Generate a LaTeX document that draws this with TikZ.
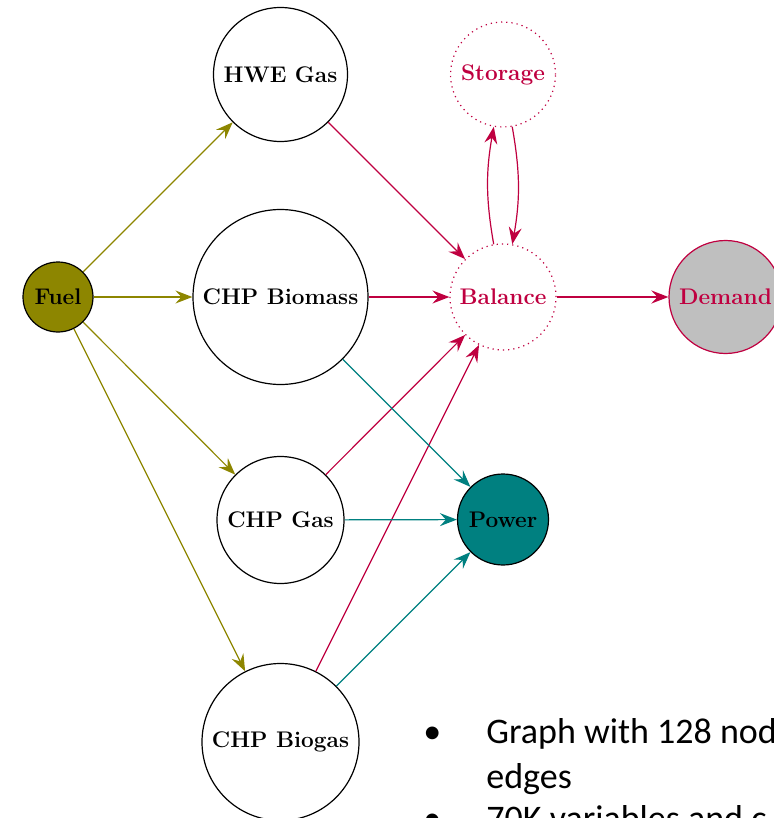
\documentclass[tikz,border=0pt]{standalone}
\usepackage{fontspec}
\newfontfamily\slidefont{Carlito}
\usetikzlibrary{arrows.meta}

\begin{document}
\begin{tikzpicture}[x=0.5pt,y=-0.5pt,
    unit/.style={circle,draw,line width=0.6pt,inner sep=0pt,
                 font=\fontsize{11.3}{13}\selectfont\bfseries},
    hub/.style={unit,draw=purple,text=purple,dotted},
    flow/.style={-{Stealth[length=8.5pt,width=6.5pt,inset=3pt]},line width=0.6pt},
    slide/.style={anchor=base west,inner sep=0pt,font=\slidefont\fontsize{18}{22}\selectfont}]
    \useasboundingbox (0,0) rectangle (774,818);
    \clip (0,0) rectangle (774,818);
    % sources and units
    \node[unit,fill=olive,minimum size=35pt] (fuel) at (58,297) {Fuel};
    \node[unit,minimum size=67pt] (hwe) at (280.5,74.5) {HWE Gas};
    \node[unit,minimum size=87.5pt] (biomass) at (280.5,297) {CHP Biomass};
    \node[unit,minimum size=63.5pt] (gas) at (280.5,520) {CHP Gas};
    \node[unit,minimum size=78.5pt] (biogas) at (280.5,742) {CHP Biogas};
    % heat side
    \node[hub,minimum size=52.5pt] (storage) at (503,74.5) {Storage};
    \node[hub,minimum size=53pt] (balance) at (503,297) {Balance};
    \node[unit,draw=purple,text=purple,fill=lightgray,minimum size=56.5pt] (demand) at (725.5,297) {Demand};
    \node[unit,fill=teal,minimum size=45.5pt] (power) at (503,519.5) {Power};
    % fuel
    \foreach \u in {hwe,biomass,gas,biogas}
        \draw[flow,olive] (fuel) -- (\u);
    % heat
    \foreach \u in {hwe,biomass,gas,biogas}
        \draw[flow,purple] (\u) -- (balance);
    \draw[flow,purple] (balance) to[bend left=10] (storage);
    \draw[flow,purple] (storage) to[bend left=10] (balance);
    \draw[flow,purple,line width=1.2pt] (balance) -- (demand);
    % electricity
    \foreach \u in {biomass,gas,biogas}
        \draw[flow,teal] (\u) -- (power);
    % slide text
    \node[slide] (b1) at (423,743) {•};
    \node[slide] (t1) at (486,743) {Graph with 128 nodes};
    \node[slide] (t2) at (486,788) {edges};
    \node[slide] (b2) at (423,830) {•};
    \node[slide] (t3) at (486,830) {70K variables and c};
\end{tikzpicture}
\end{document}
